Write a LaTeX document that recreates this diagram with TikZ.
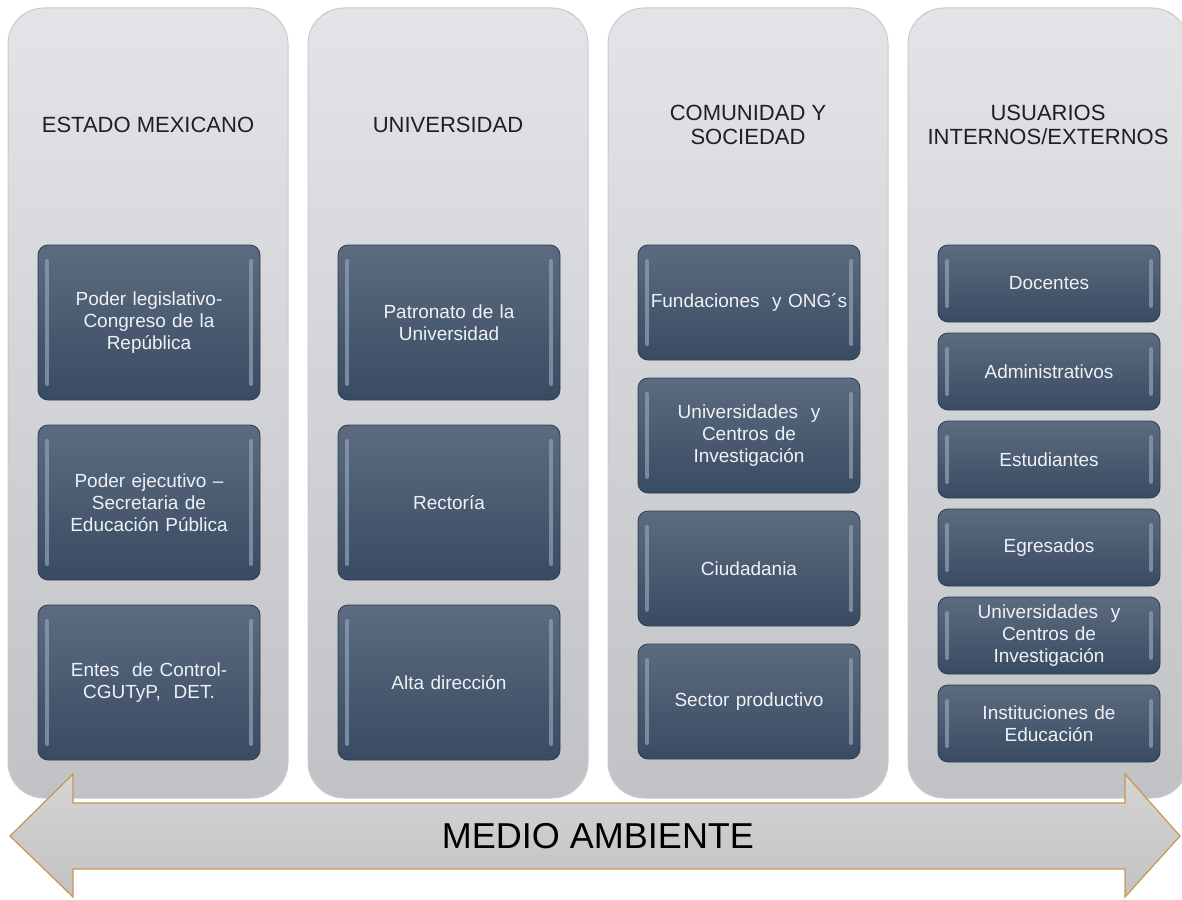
\documentclass[tikz,border=0pt]{standalone}
\usepackage{fontspec}
\setmainfont{Liberation Sans}

\definecolor{colTop}{HTML}{E3E4E8}
\definecolor{colBot}{HTML}{C1C2C5}
\definecolor{colEdge}{HTML}{C9CACE}
\definecolor{boxTop}{HTML}{5C6B7F}
\definecolor{boxBot}{HTML}{394B62}
\definecolor{boxEdge}{HTML}{2E3C4F}
\definecolor{boxText}{HTML}{EEF1F5}
\definecolor{bevelLight}{HTML}{8D9DB2}
\definecolor{arrowTop}{HTML}{D5D5D5}
\definecolor{arrowBot}{HTML}{C2C2C2}
\definecolor{arrowEdge}{HTML}{C8964F}

\begin{document}
\begin{tikzpicture}[x = 1pt, y = -1pt,
    colbox/.style = {rounded corners = 36pt, top color = colTop,
      bottom color = colBot, draw = colEdge, line width = 1pt},
    coltitle/.style = {align = center, text = black!88,
      font = \fontsize{22}{24}\selectfont},
    darkbox/.style = {rounded corners = 10pt, top color = boxTop,
      bottom color = boxBot, draw = boxEdge, line width = .8pt,
      minimum width = 222pt, text width = 214pt, align = center,
      inner sep = 0pt, text = boxText, font = \fontsize{19}{22}\selectfont,
      path picture = {
        \draw[bevelLight, line width = 4pt, line cap = round, opacity = .75]
          ([xshift = 9pt, yshift = -16pt]path picture bounding box.north west)
          -- ([xshift = 9pt, yshift = 16pt]path picture bounding box.south west);
        \draw[bevelLight, line width = 4pt, line cap = round, opacity = .75]
          ([xshift = -9pt, yshift = -16pt]path picture bounding box.north east)
          -- ([xshift = -9pt, yshift = 16pt]path picture bounding box.south east);
      }},
    envarrow/.style = {top color = arrowTop, bottom color = arrowBot,
      draw = arrowEdge, line width = 1.2pt, line join = miter},
    envtext/.style = {font = \fontsize{36}{40}\selectfont, text = black}]
  \useasboundingbox (0, 0) rectangle (1182, 899);

  % draws the columns
  \foreach \x in {0, 1, 2, 3}
    \draw[colbox] (8 + 300*\x, 8) rectangle (288 + 300*\x, 798);

  % draws the titles
  \node[coltitle] (estado) at (148, 125) {ESTADO MEXICANO};
  \node[coltitle] (univ) at (448, 125) {UNIVERSIDAD};
  \node[coltitle] (comunidad) at (748, 125) {COMUNIDAD Y\\SOCIEDAD};
  \node[coltitle] (usuarios) at (1048, 125) {USUARIOS\\INTERNOS/EXTERNOS};

  % draws the boxes of each column
  \foreach \txt [count = \i] in {{Poder legislativo-\\Congreso de la\\República},
      {Poder ejecutivo –\\Secretaria de\\Educación Pública},
      {Entes\ \ de Control-\\CGUTyP,\ \ DET.}}
    \node[darkbox, minimum height = 155pt] (estado\i)
      at (149, {142.5 + 180*\i}) {\txt};

  \foreach \txt [count = \i] in {{Patronato de la\\Universidad},
      Rectoría, Alta dirección}
    \node[darkbox, minimum height = 155pt] (univ\i)
      at (449, {142.5 + 180*\i}) {\txt};

  \foreach \txt [count = \i] in {{Fundaciones\ \ y ONG´s},
      {Universidades\ \ y\\Centros de\\Investigación},
      Ciudadania, Sector productivo}
    \node[darkbox, minimum height = 115pt] (comunidad\i)
      at (749, {169.5 + 133*\i}) {\txt};

  \foreach \txt [count = \i] in {Docentes, Administrativos, Estudiantes,
      Egresados, {Universidades\ \ y\\Centros de\\Investigación},
      {Instituciones de\\Educación}}
    \node[darkbox, minimum height = 77pt] (usuarios\i)
      at (1049, {195.5 + 88*\i}) {\txt};

  % draws the double arrow
  \draw[envarrow]
    (10, 836) -- (73, 774) -- (73, 803) -- (1125, 803) -- (1125, 774)
    -- (1180, 836) -- (1125, 897) -- (1125, 869) -- (73, 869) -- (73, 897)
    -- cycle;
  \node[envtext] (medio) at (598, 836) {MEDIO AMBIENTE};
\end{tikzpicture}
\end{document}
